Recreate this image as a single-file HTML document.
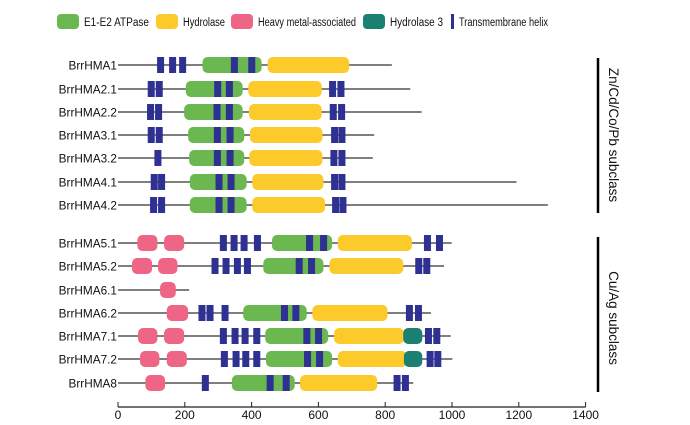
<!DOCTYPE html>
<html><head><meta charset="utf-8"><style>
body{margin:0;background:#fff;}
svg{display:block;font-family:"Liberation Sans",sans-serif;}
</style></head><body>
<svg id="c" width="690" height="425" viewBox="0 0 690 425"></svg>
<script>
const proteins=["BrrHMA1","BrrHMA2.1","BrrHMA2.2","BrrHMA3.1","BrrHMA3.2","BrrHMA4.1","BrrHMA4.2","BrrHMA5.1","BrrHMA5.2","BrrHMA6.1","BrrHMA6.2","BrrHMA7.1","BrrHMA7.2","BrrHMA8"];
const lengths=[820,875,909,767,763,1193,1287,999,976,213,937,996,1001,884];
const atpase=[[253,430],[203,373],[198,373],[210,378],[213,378],[215,385],[215,385],[461,641],[435,615],null,[375,565],[441,629],[443,641],[341,529]];
const hydrolase=[[448,692],[390,610],[392,610],[395,612],[393,612],[402,615],[402,620],[658,880],[633,854],null,[582,807],[647,856],[658,865],[545,776]];
const hma=[[],[],[],[],[],[],[],[[58,118],[138,198]],[[42,102],[120,178]],[[126,173]],[[146,210]],[[60,118],[138,198]],[[66,124],[146,206]],[[82,141]]];
const hyd3=[null,null,null,null,null,null,null,null,null,null,null,[854,911],[856,911],null];
const tm=[[117,153,183,338,390],[89,113,288,323,632,657],[87,111,286,323,634,659],[89,113,287,325,638,660],[109,287,325,636,660],[98,120,292,328,638,660],[96,120,292,328,641,663],[305,337,367,407,563,605,916,952],[280,313,347,377,532,569,890,914],[],[241,265,310,488,522,862,889],[305,340,370,405,555,590,919,944],[308,343,372,405,557,593,924,947],[251,445,493,825,850]];
const tmWidth=21;
const ticks=[0,200,400,600,800,1000,1200,1400];
const rowY=[65,89,112,135,158,182,205,243,266,290,313,336,359,383];
const x=v=>118+v*0.334;
const NS="http://www.w3.org/2000/svg";
const svg=document.getElementById('c');
function el(t,a,p){const e=document.createElementNS(NS,t);for(const k in a)e.setAttribute(k,a[k]);(p||svg).appendChild(e);return e;}
const C={g:"#6ab84f",y:"#fccb2b",p:"#ef6585",t:"#1a8072",n:"#2e3192"};
// legend: label, color, x, width, text width
const leg=[["E1-E2  ATPase",C.g,57,22,65],["Hydrolase",C.y,156,22,42],["Heavy metal-associated",C.p,231,22,98],["Hydrolase  3",C.t,363,22,53],["Transmembrane helix",C.n,451,3,89]];
leg.forEach(l=>{
 const g=el('g',{});
 
 
 el('rect',{x:l[2],y:14,width:l[3],height:15,rx:l[3]>5?4:0,fill:l[1]},g);
 const t=el('text',{x:l[2]+l[3]+5,y:26,'font-size':11.5,fill:'#111',textLength:l[4],lengthAdjust:'spacingAndGlyphs'},g);t.textContent=l[0];
});
proteins.forEach((name,i)=>{
 const y=rowY[i];
 const g=el('g',{});
 
 
 const t=el('text',{x:117,y:y+4.5,'font-size':11.8,'text-anchor':'end',fill:'#111'},g);t.textContent=name;
 el('line',{x1:x(0),x2:x(lengths[i]),y1:y,y2:y,stroke:'#333','stroke-width':1.3},g);
 const box=(s,e,col,rx,nm)=>{const r=el('rect',{x:x(s),y:y-8,width:x(e)-x(s),height:16,rx:rx,fill:col},g);};
 if(atpase[i])box(atpase[i][0],atpase[i][1],C.g,5,'atpase-domain');
 if(hydrolase[i])box(hydrolase[i][0],hydrolase[i][1],C.y,5,'hydrolase-domain');
 if(hyd3[i])box(hyd3[i][0],hyd3[i][1],C.t,5,'hydrolase3-domain');
 hma[i].forEach(d=>box(d[0],d[1],C.p,5,'hma-domain'));
 tm[i].forEach(s=>box(s,s+tmWidth,C.n,0,'tm-helix'));
});
const ax=el('g',{});


el('line',{x1:x(0),x2:x(1400),y1:407,y2:407,stroke:'#222','stroke-width':1.2},ax);
ticks.forEach(v=>{
 el('line',{x1:x(v),x2:x(v),y1:402,y2:407,stroke:'#222','stroke-width':1},ax);
 const t=el('text',{x:x(v),y:419,'font-size':12,'text-anchor':'middle',fill:'#111'},ax);t.textContent=v;
});
[[58,213,135,"Zn/Cd/Co/Pb subclass"],[237,392,318,"Cu/Ag subclass"]].forEach(b=>{
 const g=el('g',{});
 
 
 el('line',{x1:598,x2:598,y1:b[0],y2:b[1],stroke:'#000','stroke-width':2.5},g);
 const t=el('text',{x:0,y:0,'font-size':13.5,'text-anchor':'middle',fill:'#111',transform:`translate(609,${b[2]}) rotate(90)`},g);t.textContent=b[3];
});
</script>
</body></html>
